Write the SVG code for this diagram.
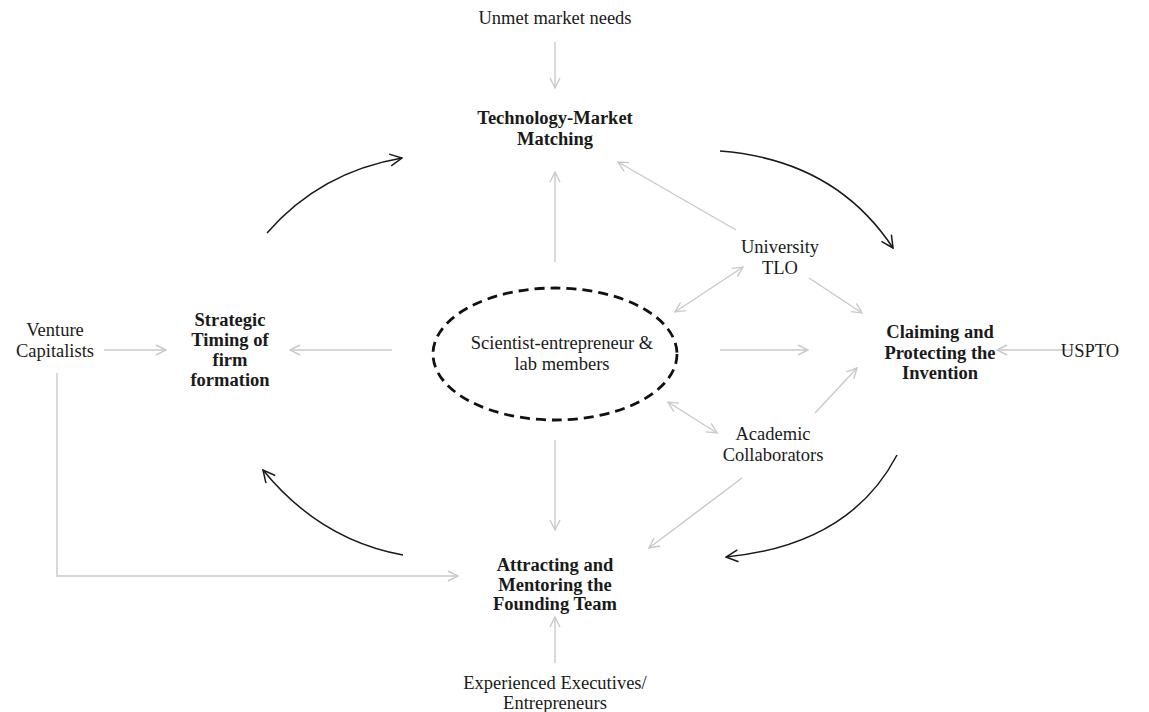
<svg xmlns="http://www.w3.org/2000/svg" width="1149" height="712" viewBox="0 0 1149 712">
  <style>
    .t { font-family: "Liberation Serif", "Times New Roman", serif; font-size: 18.5px; fill: #1a1a1a; text-anchor: middle; }
    .b { font-weight: bold; }
    .g { fill: none; stroke: #c9c9c9; stroke-width: 1.4; }
    .k { fill: none; stroke: #1a1a1a; stroke-width: 1.5; }
  </style>
  <defs>
    <marker id="ag" viewBox="0 0 12 12" refX="11" refY="6" markerWidth="12" markerHeight="12" markerUnits="userSpaceOnUse" orient="auto-start-reverse">
      <path d="M1,1 L11,6 L1,11" fill="none" stroke="#c9c9c9" stroke-width="1.4"/>
    </marker>
    <marker id="ak" viewBox="0 0 14 14" refX="13" refY="7" markerWidth="14" markerHeight="14" markerUnits="userSpaceOnUse" orient="auto">
      <path d="M1,1 L13,7 L1,13" fill="none" stroke="#1a1a1a" stroke-width="1.5"/>
    </marker>
  </defs>

  <rect width="1149" height="712" fill="#ffffff"/>

  <!-- connectors -->
  <g id="connectors">
    <!-- grey influence arrows -->
    <line class="g" x1="555" y1="42" x2="555" y2="88" marker-end="url(#ag)"/>
    <line class="g" x1="555" y1="262" x2="555" y2="172" marker-end="url(#ag)"/>
    <line class="g" x1="736" y1="230" x2="618" y2="162" marker-end="url(#ag)"/>
    <line class="g" x1="675" y1="312" x2="743" y2="267" marker-start="url(#ag)" marker-end="url(#ag)"/>
    <line class="g" x1="809" y1="278" x2="862" y2="313" marker-end="url(#ag)"/>
    <line class="g" x1="720" y1="350" x2="808" y2="350" marker-end="url(#ag)"/>
    <line class="g" x1="1073" y1="350" x2="997" y2="350" marker-end="url(#ag)"/>
    <line class="g" x1="815" y1="413" x2="857" y2="368" marker-end="url(#ag)"/>
    <line class="g" x1="668" y1="402" x2="717" y2="433" marker-start="url(#ag)" marker-end="url(#ag)"/>
    <line class="g" x1="742" y1="478" x2="649" y2="548" marker-end="url(#ag)"/>
    <line class="g" x1="555" y1="440" x2="555" y2="530" marker-end="url(#ag)"/>
    <line class="g" x1="555" y1="663" x2="555" y2="617" marker-end="url(#ag)"/>
    <line class="g" x1="392" y1="350" x2="290" y2="350" marker-end="url(#ag)"/>
    <line class="g" x1="104" y1="350" x2="166" y2="350" marker-end="url(#ag)"/>
    <polyline class="g" points="57,373 57,576 458,576" marker-end="url(#ag)"/>

    <!-- black cycle arrows -->
    <path class="k" d="M267,233 Q320,172 402,158" marker-end="url(#ak)"/>
    <path class="k" d="M720,151 Q835,160 893,248" marker-end="url(#ak)"/>
    <path class="k" d="M897,455 Q850,545 726,557" marker-end="url(#ak)"/>
    <path class="k" d="M403,555 Q320,540 263,470" marker-end="url(#ak)"/>
  </g>

  <g id="unmet-needs">
    <text class="t" x="555" y="24">Unmet market needs</text>
  </g>

  <g id="tech-market">
    <text class="t b" x="555" y="124">Technology-Market</text>
    <text class="t b" x="555" y="144.5">Matching</text>
  </g>

  <g id="university-tlo">
    <text class="t" x="780" y="253">University</text>
    <text class="t" x="780" y="274">TLO</text>
  </g>

  <g id="scientist">
    <ellipse cx="555" cy="354" rx="122" ry="66" fill="none" stroke="#111" stroke-width="2.8" stroke-dasharray="10 6"/>
    <text class="t" x="562" y="349">Scientist-entrepreneur &amp;</text>
    <text class="t" x="562" y="370">lab members</text>
  </g>

  <g id="venture-capitalists">
    <text class="t" x="55" y="336">Venture</text>
    <text class="t" x="55" y="357">Capitalists</text>
  </g>

  <g id="strategic-timing">
    <text class="t b" x="230" y="326">Strategic</text>
    <text class="t b" x="230" y="346">Timing of</text>
    <text class="t b" x="230" y="366">firm</text>
    <text class="t b" x="230" y="386">formation</text>
  </g>

  <g id="claiming">
    <text class="t b" x="940" y="338">Claiming and</text>
    <text class="t b" x="940" y="358.5">Protecting the</text>
    <text class="t b" x="940" y="379">Invention</text>
  </g>

  <g id="uspto">
    <text class="t" x="1090" y="357">USPTO</text>
  </g>

  <g id="academic">
    <text class="t" x="773" y="440">Academic</text>
    <text class="t" x="773" y="461">Collaborators</text>
  </g>

  <g id="founding-team">
    <text class="t b" x="555" y="571">Attracting and</text>
    <text class="t b" x="555" y="590.5">Mentoring the</text>
    <text class="t b" x="555" y="610">Founding Team</text>
  </g>

  <g id="executives">
    <text class="t" x="555" y="689">Experienced Executives/</text>
    <text class="t" x="555" y="709">Entrepreneurs</text>
  </g>
</svg>
